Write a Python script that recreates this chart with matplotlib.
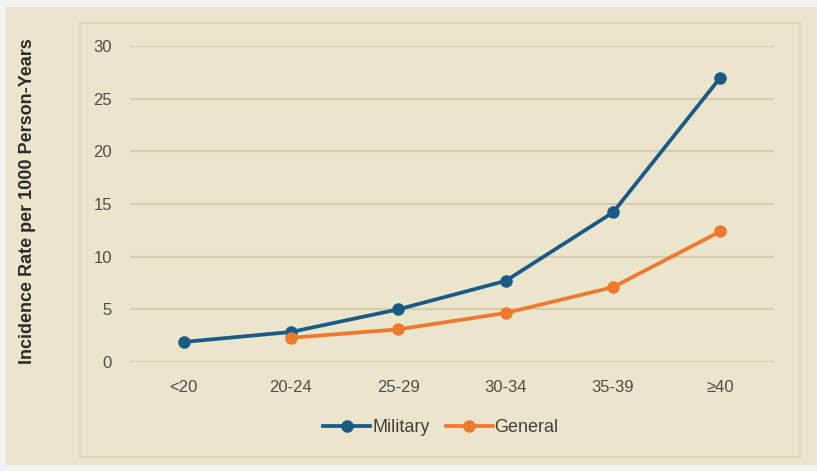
import matplotlib
matplotlib.use("Agg")
import matplotlib.pyplot as plt
from matplotlib.patches import Rectangle

categories = ["<20", "20-24", "25-29", "30-34", "35-39", "≥40"]
military = [1.9, 2.85, 5.0, 7.7, 14.2, 27.0]
general_x = ["20-24", "25-29", "30-34", "35-39", "≥40"]
general = [2.3, 3.1, 4.65, 7.1, 12.4]
yticks = [0, 5, 10, 15, 20, 25, 30]

W, H = 817, 471
fig = plt.figure(figsize=(W / 100, H / 100), dpi=100)
fig.patch.set_facecolor("#f3f3f1")

def fx(px):
    return px / W

def fy(py):
    return 1 - py / H

# outer beige panel
fig.add_artist(Rectangle((fx(6), fy(465)), fx(817) - fx(6), fy(7) - fy(465),
                         transform=fig.transFigure, facecolor="#ebe5cb",
                         edgecolor="none", zorder=-10))
# inner chart box
fig.add_artist(Rectangle((fx(80), fy(457)), fx(800) - fx(80), fy(23) - fy(457),
                         transform=fig.transFigure, facecolor="#ebe5cb",
                         edgecolor="#dcd5b8", linewidth=1.2, zorder=-9))

ax = fig.add_axes([fx(130), fy(362), fx(774) - fx(130), fy(46) - fy(362)])
ax.set_zorder(1)
ax.set_facecolor("none")
xi = {c: i for i, c in enumerate(categories)}

ax.plot([xi[c] for c in categories], military, color="#1b5a86", lw=2.7,
        marker="o", ms=8, label="Military", clip_on=False, zorder=3)
ax.plot([xi[c] for c in general_x], general, color="#ee7a30", lw=2.7,
        marker="o", ms=8, label="General", clip_on=False, zorder=3)

ax.set_xlim(-0.5, len(categories) - 0.5)
ax.set_ylim(0, 30)
ax.set_yticks(yticks)
ax.set_xticks(range(len(categories)))
ax.set_xticklabels(categories)
ax.grid(axis="y", color="#d4cdaf", linewidth=1.5)
ax.set_axisbelow(True)
for s in ax.spines.values():
    s.set_visible(False)
ax.tick_params(axis="both", length=0, labelsize=12, labelcolor="#4d4d4d")
ax.tick_params(axis="y", pad=13)
ax.tick_params(axis="x", pad=13)
for lab in ax.get_xticklabels() + ax.get_yticklabels():
    lab.set_family("Liberation Sans")

fig.text(fx(28), fy(201), "Incidence Rate per 1000 Person-Years", rotation=90,
         ha="center", va="center", fontsize=13, color="#2b2b2b",
         family="Liberation Sans", fontweight="bold")

leg = fig.legend(loc="center", bbox_to_anchor=(fx(441), fy(428)), ncol=2,
                 frameon=False, handlelength=2.6, handletextpad=0.1,
                 columnspacing=0.9, prop={"family": "Liberation Sans", "size": 13})
for t in leg.get_texts():
    t.set_color("#3f3f3f")

fig.savefig("out.png", dpi=100, facecolor=fig.get_facecolor())
